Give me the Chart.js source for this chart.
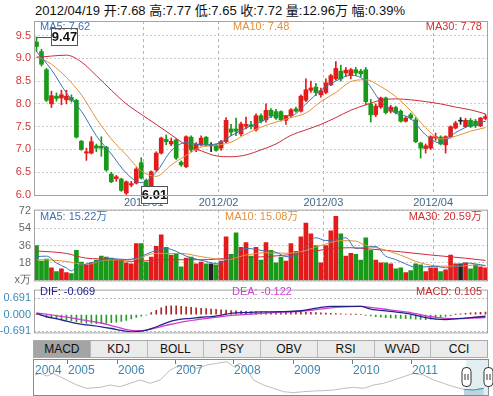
<!DOCTYPE html>
<html>
<head>
<meta charset="utf-8">
<script src="https://cdn.jsdelivr.net/npm/chart.js@4.4.1/dist/chart.umd.min.js"></script>
<style>
  body { margin: 0; width: 493px; height: 396px; position: relative; overflow: hidden; background: #fff;
         font-family: "Liberation Sans", Arial, "Noto Sans CJK SC", sans-serif; }
  canvas { position: absolute; }
  .lbl { position: absolute; white-space: nowrap; font-size: 11px; line-height: 12px; }
  #title { position: absolute; left: 35px; top: 3px; font-size: 13px; line-height: 15px; color: #111; white-space: nowrap; }
  #tabs { position: absolute; left: 33px; top: 340px; width: 455px; height: 18px; display: flex; border: 1px solid #aaa; box-sizing: border-box; }
  #tabs div { flex: 1; text-align: center; font-size: 12px; line-height: 16px; border-left: 1px solid #b8b8b8; background: #ebebeb; color: #111; }
  #tabs div:first-child { border-left: none; }
  #tabs div.on { background: #a4a4a4; }
  #nav { position: absolute; left: 33px; top: 359px; width: 456px; height: 37px; border: 1px solid #8a8a8a; box-sizing: border-box; }
  .yr { position: absolute; top: 364px; font-size: 12px; line-height: 13px; color: #3d86ae; }
</style>
</head>
<body>
<div id="title">2012/04/19 开:7.68 高:7.77 低:7.65 收:7.72 量:12.96万 幅:0.39%</div>

<canvas id="price" width="493" height="210" style="left:0;top:0"></canvas>
<canvas id="vol" width="493" height="90" style="left:0;top:200px"></canvas>
<canvas id="macd" width="493" height="62" style="left:0;top:280px"></canvas>

<div class="lbl" style="left:40px;top:20px;color:#3b73b0">MA5: 7.62</div>
<div class="lbl" style="left:233px;top:20px;color:#e3903a">MA10: 7.48</div>
<div class="lbl" style="right:11px;top:20px;color:#d23030">MA30: 7.78</div>

<div class="lbl" style="left:40px;top:210px;color:#3b73b0">MA5: 15.22万</div>
<div class="lbl" style="left:225px;top:210px;color:#e3903a">MA10: 15.08万</div>
<div class="lbl" style="right:11px;top:210px;color:#d23030">MA30: 20.59万</div>

<div class="lbl" style="left:40px;top:285px;color:#22228a">DIF: -0.069</div>
<div class="lbl" style="left:232px;top:285px;color:#d03cd0">DEA: -0.122</div>
<div class="lbl" style="right:11px;top:285px;color:#c02a2a">MACD: 0.105</div>

<div id="tabs"><div class="on">MACD</div><div>KDJ</div><div>BOLL</div><div>PSY</div><div>OBV</div><div>RSI</div><div>WVAD</div><div>CCI</div></div>

<div id="nav"></div>
<canvas id="navc" width="459" height="35" style="left:34px;top:360px"></canvas>
<div class="yr" style="left:35px">2004</div>
<div class="yr" style="left:68px">2005</div>
<div class="yr" style="left:118px">2006</div>
<div class="yr" style="left:176px">2007</div>
<div class="yr" style="left:234px">2008</div>
<div class="yr" style="left:294px">2009</div>
<div class="yr" style="left:353px">2010</div>
<div class="yr" style="left:412px">2011</div>

<script>
// trading days shown in the chart
const decDays = [1,2,5,6,7,8,9,12,13,14,15,16,19,20,21,22,23,26,27,28,29,30];
const janDays = [4,5,6,9,10,11,12,13,16,17,18,19,20,30,31];
const febDays = [1,2,3,6,7,8,9,10,13,14,15,16,17,20,21,22,23,24,27,28,29];
const marDays = [1,2,5,6,7,8,9,12,13,14,15,16,19,20,21,22,23,26,27,28,29,30];
const aprDays = [5,6,9,10,11,12,13,16,17,18,19];
const months = [['2011/12', decDays], ['2012/01', janDays], ['2012/02', febDays], ['2012/03', marDays], ['2012/04', aprDays]];

const open = [9.36,9.15,8.75,8.00,8.17,8.13,8.09,8.14,8.08,7.18,
  6.92,6.92,7.08,7.07,7.05,6.46,6.36,6.35,6.04,6.22,
  6.26,6.71,6.32,6.20,6.55,6.92,7.22,7.12,7.21,6.72,
  6.62,7.27,6.99,7.10,7.27,7.08,7.10,7.03,7.17,7.45,
  7.45,7.34,7.51,7.54,7.43,7.74,7.65,7.86,7.83,7.83,
  7.64,7.74,7.89,7.84,8.08,8.30,8.37,8.20,8.25,8.42,
  8.55,8.72,8.68,8.62,8.75,8.72,8.75,8.00,7.76,7.93,
  8.13,7.84,7.92,7.84,7.62,7.76,7.65,7.14,7.02,7.03,
  7.25,7.27,7.10,7.28,7.47,7.62,7.50,7.64,7.62,7.52,7.68];
const high = [9.47,9.20,8.78,8.28,8.24,8.30,8.30,8.20,8.10,7.20,
  7.03,7.28,7.12,7.28,7.07,6.50,6.43,6.37,6.31,6.30,
  6.60,6.82,6.35,6.53,6.95,7.27,7.32,7.25,7.24,6.75,
  7.30,7.30,7.15,7.30,7.28,7.15,7.12,7.20,7.70,7.55,
  7.69,7.60,7.71,7.62,7.78,7.78,8.00,7.90,7.88,7.85,
  7.75,7.90,7.93,8.20,8.55,8.50,8.45,8.35,8.55,8.65,
  8.93,8.85,8.80,8.78,8.80,8.76,8.80,8.10,8.00,8.15,
  8.15,7.97,7.95,7.87,7.72,7.80,7.70,7.16,7.12,7.30,
  7.36,7.30,7.30,7.52,7.62,7.70,7.68,7.68,7.66,7.70,7.77];
const low = [9.15,8.83,8.05,7.92,8.06,7.98,8.00,8.04,7.25,6.98,
  6.76,6.90,6.95,6.85,6.52,6.27,6.30,6.08,6.01,6.18,
  6.24,6.35,6.15,6.10,6.52,6.90,7.10,7.08,6.78,6.63,
  6.60,6.95,6.95,7.08,7.08,6.95,6.96,6.98,7.15,7.30,
  7.30,7.30,7.45,7.45,7.40,7.58,7.60,7.70,7.66,7.62,
  7.55,7.70,7.82,7.82,8.05,8.25,8.18,8.15,8.22,8.40,
  8.52,8.50,8.60,8.55,8.62,8.60,7.98,7.60,7.72,7.90,
  7.78,7.80,7.78,7.60,7.60,7.66,7.15,6.81,6.92,7.00,
  7.20,7.10,6.92,7.25,7.45,7.55,7.48,7.48,7.48,7.50,7.65];
const close = [9.26,8.87,8.08,8.18,8.12,8.20,8.17,8.08,7.27,7.00,
  6.95,7.17,7.03,7.03,6.55,6.29,6.40,6.10,6.29,6.25,
  6.57,6.37,6.18,6.51,6.92,7.25,7.17,7.18,6.81,6.66,
  7.28,6.99,7.12,7.25,7.10,7.08,6.98,7.17,7.64,7.38,
  7.40,7.56,7.55,7.50,7.74,7.62,7.86,7.74,7.69,7.65,
  7.73,7.87,7.84,8.17,8.31,8.35,8.25,8.29,8.46,8.62,
  8.78,8.55,8.74,8.75,8.68,8.66,8.05,7.76,7.95,8.13,
  7.81,7.93,7.81,7.62,7.69,7.69,7.17,7.03,7.08,7.28,
  7.28,7.12,7.28,7.50,7.58,7.62,7.64,7.50,7.52,7.69,7.72];
// volume, 万股
const volume = [36,20,22,13,9,12,8,7,31,19,
  16,18,21,25,24,23,21,21,18,17,
  38,38,19,24,35,47,34,26,28,14,
  23,24,17,19,17,17,16,20,45,27,
  49,34,39,25,34,21,39,31,18,24,
  20,38,30,45,59,48,36,18,36,51,
  66,48,25,28,27,21,44,31,21,18,
  18,17,12,13,8,10,17,16,9,13,
  13,9,11,26,17,17,18,12,16,14,12.96];

// moving averages: [candle index, value]
const ma5 = [[0,9.15],[3,8.75],[6,8.24],[9,7.84],[12,7.3],[15,6.9],[18,6.48],[21,6.27],[24,6.5],[27,6.97],[30,7.15],
  [33,7.1],[36,7.12],[39,7.3],[42,7.47],[45,7.61],[48,7.75],[51,7.74],[54,8.0],[57,8.3],[60,8.5],
  [63,8.63],[66,8.5],[69,8.05],[72,7.8],[75,7.68],[78,7.32],[81,7.14],[84,7.37],[87,7.53],[90,7.62]];
const ma10 = [[0,9.05],[3,8.87],[6,8.58],[9,8.2],[12,7.68],[15,7.23],[18,6.88],[21,6.53],[24,6.41],[27,6.66],[30,6.87],
  [33,7.05],[36,7.09],[39,7.16],[42,7.34],[45,7.49],[48,7.6],[51,7.7],[54,7.8],[57,8.05],[60,8.25],
  [63,8.49],[66,8.53],[69,8.38],[72,8.16],[75,7.85],[78,7.48],[81,7.23],[84,7.29],[87,7.4],[90,7.48]];
const ma30 = [[0,9.02],[3,9.05],[6,9.07],[9,8.92],[12,8.62],[15,8.3],[18,8.0],[21,7.77],[24,7.55],[27,7.32],[30,7.1],
  [33,6.97],[36,6.86],[39,6.84],[42,6.88],[45,6.99],[48,7.12],[51,7.31],[54,7.43],[57,7.55],[60,7.7],
  [63,7.86],[66,7.98],[69,8.08],[72,8.11],[75,8.09],[78,8.05],[81,8.0],[84,7.93],[87,7.87],[90,7.78]];
const volMa5 = [[0,24.5],[2,25],[4,18],[6,12.8],[7,9.8],[8,13.4],[10,17],[12,19.5],[15,22.5],[18,21.5],[20,23],
  [22,27],[24,31],[26,33],[28,30],[30,25],[32,22],[34,19.5],[36,17.5],[38,21],[40,28],[42,33],[44,32],
  [46,30],[48,29],[50,24.5],[52,26],[54,35],[56,44],[58,41],[60,42],[62,44],[64,33],[66,34],[68,35],
  [70,25],[72,21.5],[74,17],[76,13.5],[78,14],[80,14.5],[82,13],[84,14],[86,18],[88,17],[90,15.22]];
const volMa10 = [[0,21.3],[3,21],[6,19.5],[10,16.4],[14,21],[19,21.3],[24,27.8],[29,27.8],[33,24.5],[38,21.3],
  [42,26.2],[46,28.5],[50,28],[53,29.5],[57,36],[61,41],[64,40.5],[66,36],[69,32.7],[73,26],[77,18],
  [81,14.7],[85,14.7],[88,16],[90,15.08]];
const volMa30 = [[0,30.4],[6,27.8],[10,22.9],[15,21.9],[19,19.6],[26,21.3],[33,21.3],[39,22.9],[46,24.5],
  [53,27.8],[59,32.7],[63,33.7],[66,32.7],[73,29.5],[79,26.2],[86,22.9],[90,20.59]];

// MACD
const dif = [[0,0.05],[2,-0.09],[4,-0.17],[6,-0.27],[8,-0.37],[10,-0.43],[13,-0.51],[15,-0.58],[17,-0.66],[19,-0.72],
  [21,-0.69],[23,-0.58],[25,-0.43],[27,-0.27],[29,-0.19],[31,-0.16],[33,-0.11],[35,-0.085],[37,-0.02],[39,0.05],
  [42,0.085],[45,0.11],[49,0.12],[53,0.16],[55,0.23],[59,0.34],[65,0.34],[67,0.23],[71,0.13],[75,0.02],
  [78,-0.13],[80,-0.19],[82,-0.21],[85,-0.16],[87,-0.13],[90,-0.069]];
const dea = [[0,0.07],[2,0.02],[6,-0.11],[9,-0.21],[13,-0.35],[16,-0.51],[19,-0.66],[21,-0.67],[23,-0.6],[26,-0.45],
  [29,-0.31],[33,-0.19],[36,-0.11],[39,-0.03],[43,0.02],[45,0.05],[49,0.1],[53,0.14],[55,0.18],[59,0.28],
  [63,0.33],[65,0.34],[67,0.3],[71,0.19],[75,0.085],[78,-0.05],[80,-0.11],[82,-0.16],[85,-0.17],[87,-0.15],[90,-0.122]];
const macdHist = [0,-0.05,-0.1,-0.15,-0.18,-0.2,-0.22,-0.25,-0.3,-0.33,-0.36,-0.36,-0.38,-0.37,-0.36,-0.34,-0.32,-0.28,-0.24,-0.18,-0.12,-0.07,-0.02,
  0.08,0.18,0.28,0.35,0.37,0.36,0.34,0.32,0.3,0.28,0.26,0.25,0.23,0.22,0.2,0.19,0.17,0.16,0.15,0.14,0.13,0.13,
  0.12,0.12,0.12,0.11,0.11,0.1,0.1,0.1,0.1,0.1,0.09,0.08,0.07,0.06,0.05,0.04,0.03,0.02,0.01,0.01,0,
  -0.03,-0.06,-0.09,-0.11,-0.13,-0.14,-0.15,-0.16,-0.17,-0.18,-0.19,-0.2,-0.21,-0.19,-0.16,-0.12,-0.08,-0.04,0.01,0.03,0.05,0.07,0.08,0.09,0.105];

// axis ticks
const priceTicks = [6.0,6.5,7.0,7.5,8.0,8.5,9.0,9.5];
const volTicks = [0,18,36,54,72];
const macdTicks = [-0.691,0,0.691];

// overview strip: [trading day since start, level]
const navLine = [[4,6.5],[25,7.0],[53,6.2],[80,7.0],[108,6.0],[136,5.0],[178,3.5],[220,2.5],[275,2.8],[317,3.5],
  [358,3.0],[400,4.0],[442,5.0],[483,4.0],[525,5.0],[567,8.0],[594,9.0],[636,9.5],[678,8.5],[719,9.5],
  [761,10.0],[803,10.5],[830,9.0],[858,10.0],[886,8.0],[914,5.0],[955,3.5],[997,2.5],[1039,1.5],[1080,1.2],
  [1122,1.5],[1164,1.7],[1205,1.8],[1247,2.0],[1289,2.5],[1330,2.8],[1372,2.5],[1414,3.5],[1455,4.0],[1497,5.0],
  [1539,6.0],[1580,7.0],[1622,6.5],[1664,5.0],[1705,4.0],[1747,3.0],[1789,2.2],[1830,2.0],[1872,2.5]];
const navYearStart = [136,345,588,830,1077,1324,1570];
const navDays = 1890;
const navSel = [1799,1890];

const dates = [], monthStart = [], monthLabels = [];
months.forEach(([m, days], mi) => {
  if (mi > 0) { monthStart.push(dates.length); monthLabels.push(m); }
  days.forEach(d => dates.push(m + '/' + String(d).padStart(2, '0')));
});

const UP = '#e41b1b', DOWN = '#189a18', FLAT = '#222';
const candleColor = close.map((c, i) => c > open[i] ? UP : (c < open[i] ? DOWN : FLAT));

Chart.defaults.font.family = '"Liberation Sans", Arial, sans-serif';
Chart.defaults.animation = false;

const line = (pairs, color, width) => ({
  type: 'line', data: pairs.map(([k, v]) => ({ x: k, y: v })), borderColor: color, borderWidth: width || 1,
  pointRadius: 0, cubicInterpolationMode: 'monotone', fill: false
});

const xAxis = labels => ({
  type: 'linear', min: -0.5, max: dates.length - 0.5, offset: false,
  afterBuildTicks: s => { s.ticks = monthStart.map(k => ({ value: k - 0.5 })); },
  afterFit: s => { s.height = labels ? 15 : 0; },
  ticks: { display: labels, autoSkip: false, maxRotation: 0, padding: 1, color: '#41688a', font: { size: 11 },
           callback: (v, i) => monthLabels[i] },
  grid: { offset: false, color: '#b4b4b4', drawTicks: false },
  border: { display: false, dash: [3, 3] }
});

const yAxis = (min, max, ticks, color, fmt, gridColor) => ({
  min: min, max: max,
  afterBuildTicks: s => { s.ticks = ticks.map(v => ({ value: v })); },
  afterFit: s => { s.width = 34; },
  ticks: { color: color, font: { size: 11 }, padding: 3, callback: fmt },
  grid: { color: gridColor, drawTicks: false },
  border: { display: false, dash: [2, 2] }
});

const frame = {
  id: 'frame',
  afterDraw(chart) {
    const a = chart.chartArea, ctx = chart.ctx;
    ctx.save();
    ctx.strokeStyle = '#a4a4a4';
    ctx.lineWidth = 1;
    ctx.strokeRect(a.left + 0.5, a.top + 0.5, a.right - a.left - 1, a.bottom - a.top);
    ctx.restore();
  }
};

// boxes with the highest and lowest price
const extremes = {
  id: 'extremes',
  afterDatasetsDraw(chart) {
    const ctx = chart.ctx, xs = chart.scales.x, ys = chart.scales.y;
    const hi = Math.max(...high), lo = Math.min(...low);
    [[high.indexOf(hi), hi], [low.indexOf(lo), lo]].forEach(([k, v]) => {
      const x = xs.getPixelForValue(k), y = Math.round(ys.getPixelForValue(v)) + 0.5;
      const bx = Math.round(x) + 15.5, by = Math.round(y) - 9.5;
      ctx.save();
      ctx.strokeStyle = '#555';
      ctx.lineWidth = 1;
      ctx.beginPath(); ctx.moveTo(x, y); ctx.lineTo(bx, y); ctx.stroke();
      ctx.fillStyle = '#fff';
      ctx.fillRect(bx, by, 26, 17);
      ctx.strokeRect(bx, by, 26, 17);
      ctx.fillStyle = '#111';
      ctx.font = 'bold 13px "Liberation Sans", Arial, sans-serif';
      ctx.textAlign = 'center'; ctx.textBaseline = 'middle';
      ctx.fillText(v.toFixed(2), bx + 13, by + 9);
      ctx.restore();
    });
  }
};

new Chart(document.getElementById('price'), {
  type: 'bar',
  data: { datasets: [
    line(ma5, '#3b73b0'), line(ma10, '#e3903a'), line(ma30, '#cc2a3a'),
    { data: open.map((o, i) => ({ x: i, y: [o, close[i]] })), backgroundColor: candleColor,
      barThickness: 4, grouped: false, minBarLength: 1 },
    { data: low.map((l, i) => ({ x: i, y: [l, high[i]] })), backgroundColor: candleColor,
      barThickness: 1, grouped: false }
  ]},
  options: {
    responsive: false, devicePixelRatio: 1,
    layout: { padding: { top: 21, right: 5, left: 0, bottom: 0 } },
    plugins: { legend: { display: false }, tooltip: { enabled: false } },
    scales: {
      x: xAxis(true),
      y: yAxis(6, 9.82, priceTicks, '#d03636', v => v.toFixed(1), '#cccccc')
    }
  },
  plugins: [frame, extremes]
});

new Chart(document.getElementById('vol'), {
  type: 'bar',
  data: { datasets: [
    line(volMa5, '#3b73b0'), line(volMa10, '#e3903a'), line(volMa30, '#cc2a3a'),
    { data: volume.map((v, i) => ({ x: i, y: v })), backgroundColor: candleColor, barThickness: 4, grouped: false }
  ]},
  options: {
    responsive: false, devicePixelRatio: 1,
    layout: { padding: { top: 9, right: 5, left: 0, bottom: 7 } },
    plugins: { legend: { display: false }, tooltip: { enabled: false } },
    scales: {
      x: xAxis(false),
      y: yAxis(0, 73, volTicks, '#666', v => v === 0 ? 'x万' : String(v), '#cccccc')
    }
  },
  plugins: [frame]
});

new Chart(document.getElementById('macd'), {
  type: 'bar',
  data: { datasets: [
    line(dif, '#22228a', 1.3), line(dea, '#d03cd0', 1.3),
    { data: macdHist.map((v, i) => ({ x: i, y: v })), backgroundColor: macdHist.map(v => v >= 0 ? '#a82626' : '#2c9a2c'),
      barThickness: 1, grouped: false }
  ]},
  options: {
    responsive: false, devicePixelRatio: 1,
    layout: { padding: { top: 4, right: 5, left: 0, bottom: 2 } },
    plugins: { legend: { display: false }, tooltip: { enabled: false } },
    scales: {
      x: Object.assign(xAxis(false), { grid: { display: false } }),
      y: yAxis(-0.742, 1.041, macdTicks, '#3c88b8', v => v.toFixed(3),
               c => c.tick && c.tick.value !== 0 ? '#b8b8b8' : 'rgba(0,0,0,0)')
    }
  },
  plugins: [frame]
});

// overview strip: selection, year ticks and slider handles
const navDeco = {
  id: 'navDeco',
  beforeDatasetsDraw(chart) {
    const ctx = chart.ctx, xs = chart.scales.x, a = chart.chartArea;
    const x0 = xs.getPixelForValue(navSel[0]), x1 = xs.getPixelForValue(navSel[1]);
    ctx.save();
    ctx.fillStyle = '#e2eef2';
    ctx.fillRect(x0, a.top, x1 - x0, a.bottom - a.top);
    ctx.strokeStyle = '#777';
    ctx.lineWidth = 1;
    navYearStart.forEach(d => {
      const x = Math.round(xs.getPixelForValue(d)) + 0.5;
      ctx.beginPath(); ctx.moveTo(x, a.top); ctx.lineTo(x, a.top + 4); ctx.stroke();
    });
    ctx.restore();
  },
  afterDatasetsDraw(chart) {
    const ctx = chart.ctx, xs = chart.scales.x;
    ctx.save();
    ctx.strokeStyle = '#333';
    ctx.lineWidth = 1;
    navSel.forEach(d => {
      const x = Math.round(xs.getPixelForValue(d)) + 0.5;
      ctx.fillStyle = '#fff';
      ctx.beginPath();
      ctx.roundRect(x - 4.5, 7.5, 9, 19, 4);
      ctx.fill(); ctx.stroke();
      ctx.beginPath();
      ctx.moveTo(x - 1.5, 14); ctx.lineTo(x - 1.5, 20);
      ctx.moveTo(x + 1.5, 14); ctx.lineTo(x + 1.5, 20);
      ctx.stroke();
    });
    ctx.restore();
  }
};

new Chart(document.getElementById('navc'), {
  type: 'line',
  data: { datasets: [
    { data: navLine.filter(p => p[0] >= navSel[0] - 12).map(([d, v]) => ({ x: d, y: v })),
      borderColor: '#4a8fb5', borderWidth: 1, backgroundColor: '#b9d5e0', fill: 'start', pointRadius: 0 },
    { data: navLine.map(([d, v]) => ({ x: d, y: v })), borderColor: '#bdbdbd', borderWidth: 1, pointRadius: 0, fill: false }
  ]},
  options: {
    responsive: false, devicePixelRatio: 1,
    layout: { padding: { top: 0, right: 5, left: 0, bottom: 0 } },
    plugins: { legend: { display: false }, tooltip: { enabled: false } },
    scales: {
      x: { type: 'linear', min: 0, max: navDays, display: false },
      y: { min: 0.5, max: 11, display: false }
    }
  },
  plugins: [navDeco]
});
</script>
</body>
</html>
